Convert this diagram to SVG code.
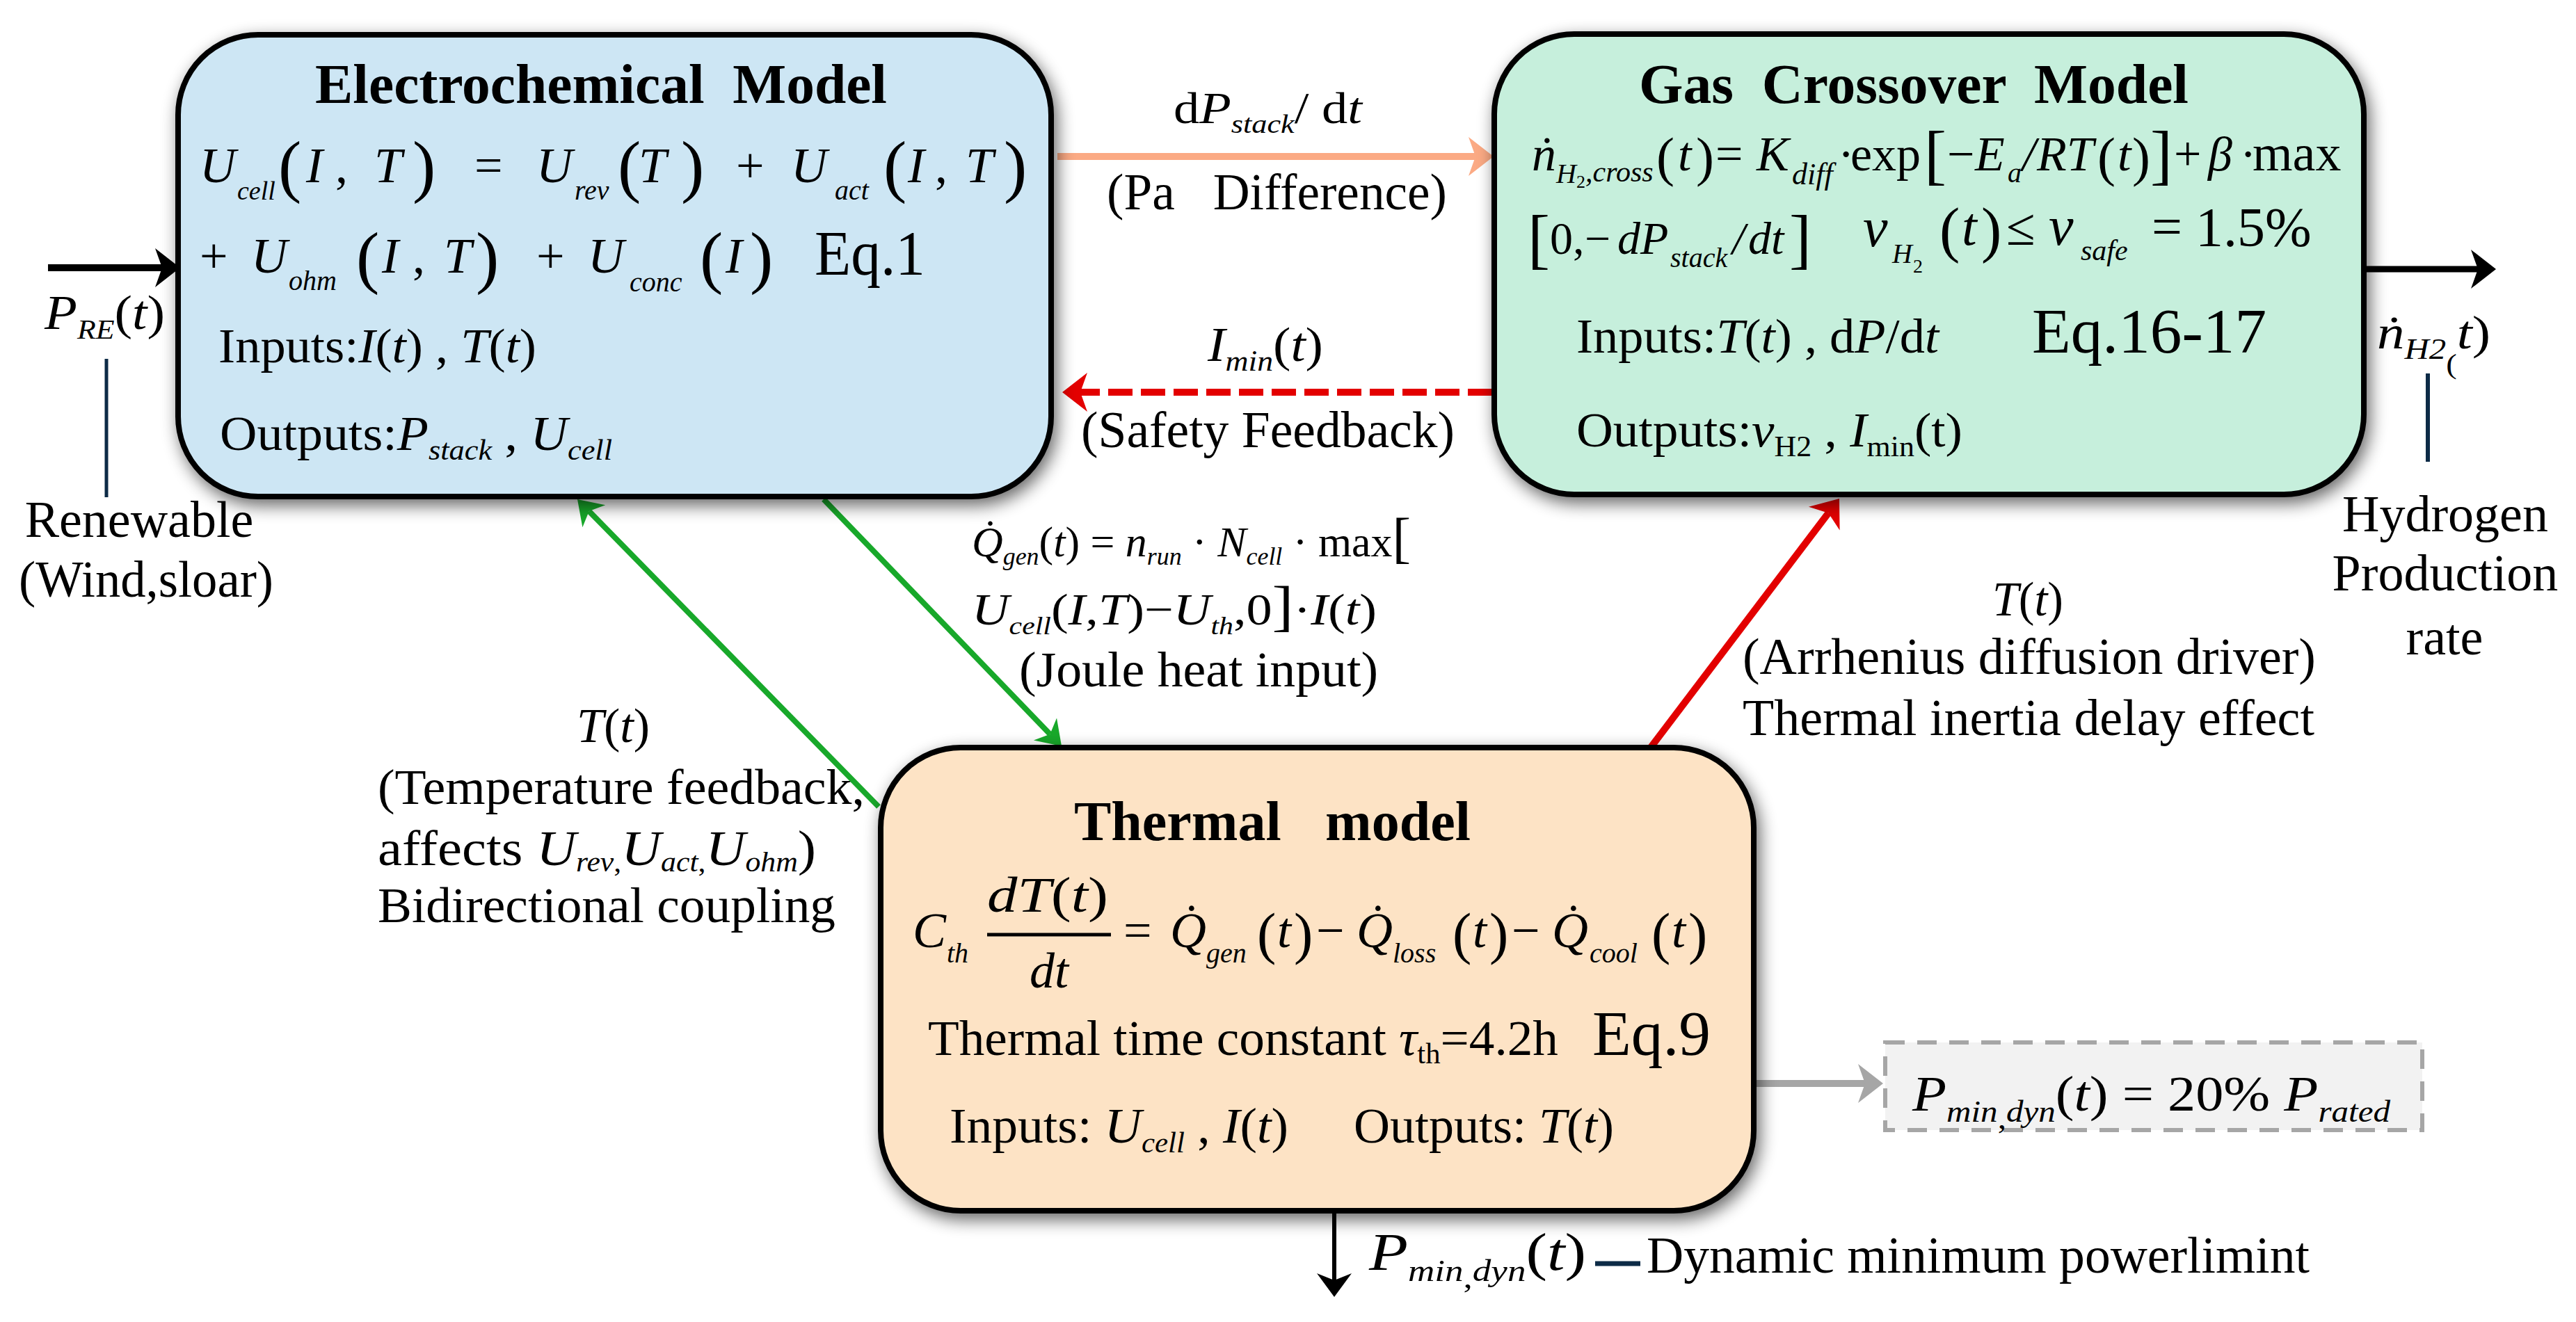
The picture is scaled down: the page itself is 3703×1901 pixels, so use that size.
<svg xmlns="http://www.w3.org/2000/svg" width="3703" height="1901" viewBox="0 0 3703 1901">
<style>
text{font-family:"Liberation Serif","Times New Roman",serif;fill:#000;}
.i{font-style:italic;}
.b{font-weight:bold;}
.box{stroke:#000;stroke-width:8;}
.nv{stroke:#0d2b47;fill:none;}
</style>
<defs>
<filter id="sh" x="-8%" y="-10%" width="118%" height="125%">
<feGaussianBlur in="SourceAlpha" stdDeviation="12"/>
<feOffset dx="5" dy="9"/>
<feComponentTransfer><feFuncA type="linear" slope="0.6"/></feComponentTransfer>
<feMerge><feMergeNode/><feMergeNode in="SourceGraphic"/></feMerge>
</filter>
<marker id="ak" markerUnits="userSpaceOnUse" viewBox="-12 -30 40 60" markerWidth="40" markerHeight="60" refX="0" refY="0" orient="auto"><path d="M26,0 L-10,-28 L0,0 L-10,28 Z" fill="#000"/></marker>
<marker id="ak2" markerUnits="userSpaceOnUse" viewBox="-12 -30 40 60" markerWidth="40" markerHeight="60" refX="0" refY="0" orient="auto"><path d="M24,0 L-10,-25 L0,0 L-10,25 Z" fill="#000"/></marker>
<marker id="ao" markerUnits="userSpaceOnUse" viewBox="-12 -30 40 60" markerWidth="40" markerHeight="60" refX="0" refY="0" orient="auto"><path d="M26,0 L-10,-28 L0,0 L-10,28 Z" fill="#FBAA84"/></marker>
<marker id="ar" markerUnits="userSpaceOnUse" viewBox="-12 -30 40 60" markerWidth="40" markerHeight="60" refX="0" refY="0" orient="auto"><path d="M26,0 L-10,-28 L0,0 L-10,28 Z" fill="#E30000"/></marker>
<marker id="ag" markerUnits="userSpaceOnUse" viewBox="-12 -30 40 60" markerWidth="40" markerHeight="60" refX="0" refY="0" orient="auto"><path d="M24,0 L-10,-23 L0,0 L-10,23 Z" fill="#18A82A"/></marker>
<marker id="ay" markerUnits="userSpaceOnUse" viewBox="-12 -30 40 60" markerWidth="40" markerHeight="60" refX="0" refY="0" orient="auto"><path d="M26,0 L-10,-28 L0,0 L-10,28 Z" fill="#A6A6A6"/></marker>
</defs>
<rect width="3703" height="1901" fill="#fff"/>

<g id="connectors" fill="none">
<line x1="69" y1="385" x2="233" y2="385" stroke="#000" stroke-width="10" marker-end="url(#ak)"/>
<line x1="3400" y1="387" x2="3562" y2="387" stroke="#000" stroke-width="9" marker-end="url(#ak)"/>
<line x1="1520" y1="225" x2="2121" y2="225" stroke="#FBAA84" stroke-width="10" marker-end="url(#ao)"/>
<line x1="2145" y1="564" x2="1553" y2="564" stroke="#E30000" stroke-width="10" stroke-dasharray="35 12" marker-end="url(#ar)"/>
<line x1="1263" y1="1160" x2="846.8" y2="735.1" stroke="#18A82A" stroke-width="8" marker-end="url(#ag)"/>
<line x1="1184" y1="718" x2="1509.4" y2="1055.7" stroke="#18A82A" stroke-width="8" marker-end="url(#ag)"/>
<line x1="2372" y1="1076" x2="2628.3" y2="737.7" stroke="#E30000" stroke-width="10" marker-end="url(#ar)"/>
<line x1="1918" y1="1741" x2="1918" y2="1841" stroke="#000" stroke-width="6" marker-end="url(#ak2)"/>
<line x1="2522" y1="1558" x2="2681" y2="1558" stroke="#A6A6A6" stroke-width="10" marker-end="url(#ay)"/>
<line class="nv" x1="153" y1="516" x2="153" y2="715" stroke-width="5"/>
<line class="nv" x1="3490" y1="537" x2="3490" y2="664" stroke-width="6"/>
<line class="nv" x1="2293" y1="1817" x2="2358" y2="1817" stroke-width="7"/>
</g>

<g id="electrochemical">
<rect class="box" x="256" y="50" width="1255" height="664" rx="115" fill="#CDE6F4" filter="url(#sh)"/>
<text x="864" y="148" text-anchor="middle" font-size="80" class="b" textLength="822" lengthAdjust="spacingAndGlyphs" xml:space="preserve">Electrochemical  Model</text>
<text font-size="72" y="262"><tspan x="287" class="i">U</tspan><tspan x="341" y="287" font-size="38" class="i">cell</tspan><tspan x="400" y="272" font-size="100">(</tspan><tspan x="440" y="262" class="i">I</tspan><tspan x="482">,</tspan><tspan x="538" class="i">T</tspan><tspan x="593" y="272" font-size="100">)</tspan><tspan x="682" y="262">=</tspan><tspan x="771" class="i">U</tspan><tspan x="826" y="287" font-size="40" class="i">rev</tspan><tspan x="888" y="272" font-size="100">(</tspan><tspan x="918" y="262" class="i">T</tspan><tspan x="979" y="272" font-size="100">)</tspan><tspan x="1058" y="262">+</tspan><tspan x="1137" class="i">U</tspan><tspan x="1200" y="287" font-size="40" class="i">act</tspan><tspan x="1270" y="272" font-size="100">(</tspan><tspan x="1305" y="262" class="i">I</tspan><tspan x="1344">,</tspan><tspan x="1388" class="i">T</tspan><tspan x="1443" y="272" font-size="100">)</tspan></text>
<text font-size="72" y="392"><tspan x="287">+</tspan><tspan x="361" class="i">U</tspan><tspan x="415" y="417" font-size="40" class="i">ohm</tspan><tspan x="512" y="403" font-size="100">(</tspan><tspan x="549" y="392" class="i">I</tspan><tspan x="593">,</tspan><tspan x="638" class="i">T</tspan><tspan x="684" y="403" font-size="100">)</tspan><tspan x="771" y="392">+</tspan><tspan x="845" class="i">U</tspan><tspan x="905" y="419" font-size="40" class="i">conc</tspan><tspan x="1006" y="403" font-size="100">(</tspan><tspan x="1043" y="392" class="i">I</tspan><tspan x="1078" y="403" font-size="100">)</tspan></text>
<text x="1171" y="395" font-size="92" textLength="159" lengthAdjust="spacingAndGlyphs">Eq.1</text>
<text x="314" y="521" font-size="70" textLength="457" lengthAdjust="spacingAndGlyphs" xml:space="preserve">Inputs:<tspan class="i">I</tspan>(<tspan class="i">t</tspan>) , <tspan class="i">T</tspan>(<tspan class="i">t</tspan>)</text>
<text x="316" y="647" font-size="70" textLength="564" lengthAdjust="spacingAndGlyphs" xml:space="preserve">Outputs:<tspan class="i">P</tspan><tspan class="i" font-size="42" dy="14">stack</tspan><tspan dy="-14"> , </tspan><tspan class="i">U</tspan><tspan class="i" font-size="42" dy="14">cell</tspan></text>
</g>

<g id="gas-crossover">
<rect class="box" x="2148" y="49" width="1250" height="662" rx="115" fill="#C6EFDC" filter="url(#sh)"/>
<text x="2751" y="148" text-anchor="middle" font-size="80" class="b" textLength="790" lengthAdjust="spacingAndGlyphs" xml:space="preserve">Gas  Crossover  Model</text>
<text font-size="70" y="245"><tspan x="2202" class="i">ṅ</tspan><tspan x="2237" y="263" font-size="40" class="i">H</tspan><tspan x="2266" y="270" font-size="26">2</tspan><tspan x="2279" y="261" font-size="42" class="i">,cross</tspan><tspan x="2381" y="252" font-size="78">(</tspan><tspan x="2412" y="245" class="i">t</tspan><tspan x="2438" y="252" font-size="78">)</tspan><tspan x="2466" y="245">=</tspan><tspan x="2525" class="i">K</tspan><tspan x="2576" y="265" font-size="44" class="i">diff</tspan><tspan x="2642" y="245">·</tspan><tspan x="2660">exp</tspan><tspan x="2766" y="254" font-size="96">[</tspan><tspan x="2799" y="245">−</tspan><tspan x="2839" class="i">E</tspan><tspan x="2886" y="262" font-size="40" class="i">a</tspan><tspan x="2907" y="245" class="i">/</tspan><tspan x="2928" class="i">RT</tspan><tspan x="3015" y="252" font-size="78">(</tspan><tspan x="3044" y="245" class="i">t</tspan><tspan x="3065" y="252" font-size="78">)</tspan><tspan x="3091" y="254" font-size="96">]</tspan><tspan x="3125" y="245">+</tspan><tspan x="3174" class="i">β</tspan><tspan x="3220">·</tspan><tspan x="3238" font-size="74">max</tspan></text>
<text font-size="66" y="365"><tspan x="2196" y="375" font-size="96">[</tspan><tspan x="2228" y="365">0</tspan><tspan x="2261">,</tspan><tspan x="2278">−</tspan><tspan x="2325" class="i">d</tspan><tspan x="2358" class="i">P</tspan><tspan x="2401" y="384" font-size="40" class="i">stack</tspan><tspan x="2490" y="365" class="i">/</tspan><tspan x="2513" class="i">dt</tspan><tspan x="2572" y="375" font-size="96">]</tspan><tspan x="2678" y="354" font-size="80" class="i">ν</tspan><tspan x="2720" y="378" font-size="40" class="i">H</tspan><tspan x="2750" y="392" font-size="28">2</tspan><tspan x="2788" y="360" font-size="88">(</tspan><tspan x="2820" y="352" font-size="78" class="i">t</tspan><tspan x="2848" y="360" font-size="88">)</tspan><tspan x="2884" y="352" font-size="76">≤</tspan><tspan x="2945" font-size="80" class="i">ν</tspan><tspan x="2991" y="374" font-size="42" class="i">safe</tspan><tspan x="3093" y="352" font-size="78">=</tspan><tspan x="3156" y="354" font-size="80">1.5%</tspan></text>
<text x="2266" y="507" font-size="70" textLength="521" lengthAdjust="spacingAndGlyphs" xml:space="preserve">Inputs:<tspan class="i">T</tspan>(<tspan class="i">t</tspan>) , d<tspan class="i">P</tspan>/d<tspan class="i">t</tspan></text>
<text x="2921" y="507" font-size="90" textLength="337" lengthAdjust="spacingAndGlyphs">Eq.16-17</text>
<text x="2266" y="642" font-size="70" textLength="555" lengthAdjust="spacingAndGlyphs" xml:space="preserve">Outputs:<tspan class="i">ν</tspan><tspan font-size="42" dy="14">H2</tspan><tspan dy="-14"> , </tspan><tspan class="i">I</tspan><tspan font-size="42" dy="14">min</tspan><tspan dy="-14">(t)</tspan></text>
</g>

<g id="thermal">
<rect class="box" x="1266" y="1075" width="1255" height="666" rx="115" fill="#FDE3C5" filter="url(#sh)"/>
<text y="1208" font-size="80" class="b"><tspan x="1544">Thermal</tspan><tspan x="1905">model</tspan></text>
<text font-size="72" y="1362"><tspan x="1312" class="i">C</tspan><tspan x="1361" y="1384" font-size="40" class="i">th</tspan></text>
<text x="1419" y="1311" font-size="72" textLength="174" lengthAdjust="spacingAndGlyphs"><tspan class="i">dT</tspan>(<tspan class="i">t</tspan>)</text>
<line x1="1419" y1="1344" x2="1597" y2="1344" stroke="#000" stroke-width="5"/>
<text x="1480" y="1420" font-size="72" class="i">dt</text>
<text font-size="72" y="1362"><tspan x="1615">=</tspan><tspan x="1682" class="i">Q̇</tspan><tspan x="1734" y="1384" font-size="40" class="i">gen</tspan><tspan x="1807" y="1370" font-size="82">(</tspan><tspan x="1836" y="1362" class="i">t</tspan><tspan x="1860" y="1370" font-size="82">)</tspan><tspan x="1892" y="1362">−</tspan><tspan x="1950" class="i">Q̇</tspan><tspan x="2002" y="1384" font-size="40" class="i">loss</tspan><tspan x="2088" y="1370" font-size="82">(</tspan><tspan x="2117" y="1362" class="i">t</tspan><tspan x="2141" y="1370" font-size="82">)</tspan><tspan x="2173" y="1362">−</tspan><tspan x="2231" class="i">Q̇</tspan><tspan x="2285" y="1384" font-size="40" class="i">cool</tspan><tspan x="2374" y="1370" font-size="82">(</tspan><tspan x="2403" y="1362" class="i">t</tspan><tspan x="2427" y="1370" font-size="82">)</tspan></text>
<text x="1334" y="1517" font-size="72" textLength="906" lengthAdjust="spacingAndGlyphs" xml:space="preserve">Thermal time constant <tspan class="i">τ</tspan><tspan font-size="42" dy="12">th</tspan><tspan dy="-12">=4.2h</tspan></text>
<text x="2289" y="1517" font-size="92" textLength="170" lengthAdjust="spacingAndGlyphs">Eq.9</text>
<text x="1365" y="1643" font-size="72" textLength="487" lengthAdjust="spacingAndGlyphs" xml:space="preserve">Inputs: <tspan class="i">U</tspan><tspan class="i" font-size="42" dy="14">cell</tspan><tspan dy="-14"> , </tspan><tspan class="i">I</tspan>(<tspan class="i">t</tspan>)</text>
<text x="1946" y="1643" font-size="72" textLength="374" lengthAdjust="spacingAndGlyphs" xml:space="preserve">Outputs: <tspan class="i">T</tspan>(<tspan class="i">t</tspan>)</text>
</g>

<g id="pmin-box">
<rect x="2710" y="1499" width="772" height="126" fill="#F2F2F2" stroke="#A6A6A6" stroke-width="6" stroke-dasharray="28 18"/>
<text x="2749" y="1597" font-size="72" textLength="687" lengthAdjust="spacingAndGlyphs" xml:space="preserve"><tspan class="i">P</tspan><tspan class="i" font-size="44" dy="16">min</tspan><tspan font-size="44" dy="10">,</tspan><tspan class="i" font-size="44" dy="-10">dyn</tspan><tspan dy="-16">(<tspan class="i">t</tspan>) = 20% </tspan><tspan class="i">P</tspan><tspan class="i" font-size="44" dy="16">rated</tspan></text>
</g>

<g id="labels">
<text x="64" y="473" font-size="70" textLength="173" lengthAdjust="spacingAndGlyphs"><tspan class="i">P</tspan><tspan class="i" font-size="40" dy="14">RE</tspan><tspan dy="-14">(<tspan class="i">t</tspan>)</tspan></text>
<text x="200" y="772" font-size="74" text-anchor="middle">Renewable</text>
<text x="210" y="858" font-size="74" text-anchor="middle" textLength="366" lengthAdjust="spacingAndGlyphs">(Wind,sloar)</text>
<text x="1687" y="177" font-size="64" textLength="271" lengthAdjust="spacingAndGlyphs" xml:space="preserve">d<tspan class="i">P</tspan><tspan class="i" font-size="38" dy="14">stack</tspan><tspan dy="-14">/ d</tspan><tspan class="i">t</tspan></text>
<text x="1591" y="301" font-size="73" textLength="489" lengthAdjust="spacingAndGlyphs" xml:space="preserve">(Pa   Difference)</text>
<text x="1736" y="519" font-size="70" textLength="166" lengthAdjust="spacingAndGlyphs"><tspan class="i">I</tspan><tspan class="i" font-size="42" dy="14">min</tspan><tspan dy="-14">(<tspan class="i">t</tspan>)</tspan></text>
<text x="1554" y="643" font-size="74" textLength="537" lengthAdjust="spacingAndGlyphs">(Safety Feedback)</text>
<text x="3417" y="501" font-size="68" textLength="163" lengthAdjust="spacingAndGlyphs"><tspan class="i">ṅ</tspan><tspan class="i" font-size="42" dy="15">H2</tspan><tspan font-size="40" dy="21">(</tspan><tspan class="i" dy="-36">t</tspan>)</text>
<text x="3515" y="764" font-size="74" text-anchor="middle">Hydrogen</text>
<text x="3515" y="849" font-size="74" text-anchor="middle">Production</text>
<text x="3514" y="941" font-size="74" text-anchor="middle">rate</text>
<text x="1397" y="800" font-size="62" textLength="631" lengthAdjust="spacingAndGlyphs" xml:space="preserve"><tspan class="i">Q̇</tspan><tspan class="i" font-size="36" dy="12">gen</tspan><tspan dy="-12">(<tspan class="i">t</tspan>) = </tspan><tspan class="i">n</tspan><tspan class="i" font-size="36" dy="12">run</tspan><tspan dy="-12"> · </tspan><tspan class="i">N</tspan><tspan class="i" font-size="36" dy="12">cell</tspan><tspan dy="-12"> · max</tspan><tspan font-size="80">[</tspan></text>
<text x="1397" y="898" font-size="64" textLength="582" lengthAdjust="spacingAndGlyphs" xml:space="preserve"><tspan class="i">U</tspan><tspan class="i" font-size="36" dy="14">cell</tspan><tspan dy="-14">(<tspan class="i">I</tspan>,<tspan class="i">T</tspan>)−</tspan><tspan class="i">U</tspan><tspan class="i" font-size="36" dy="14">th</tspan><tspan dy="-14">,0</tspan><tspan font-size="80">]</tspan>·<tspan class="i">I</tspan>(<tspan class="i">t</tspan>)</text>
<text x="1465" y="987" font-size="72" textLength="516" lengthAdjust="spacingAndGlyphs">(Joule heat input)</text>
<text x="829" y="1067" font-size="70" textLength="105" lengthAdjust="spacingAndGlyphs"><tspan class="i">T</tspan>(<tspan class="i">t</tspan>)</text>
<text x="543" y="1156" font-size="72" textLength="700" lengthAdjust="spacingAndGlyphs">(Temperature feedback,</text>
<text x="543" y="1244" font-size="72" textLength="630" lengthAdjust="spacingAndGlyphs" xml:space="preserve">affects <tspan class="i">U</tspan><tspan class="i" font-size="40" dy="9">rev</tspan><tspan font-size="40">,</tspan><tspan class="i" dy="-9">U</tspan><tspan class="i" font-size="40" dy="9">act</tspan><tspan font-size="40">,</tspan><tspan class="i" dy="-9">U</tspan><tspan class="i" font-size="40" dy="9">ohm</tspan><tspan dy="-9">)</tspan></text>
<text x="543" y="1326" font-size="72" textLength="658" lengthAdjust="spacingAndGlyphs">Bidirectional coupling</text>
<text x="2864" y="885" font-size="70" textLength="102" lengthAdjust="spacingAndGlyphs"><tspan class="i">T</tspan>(<tspan class="i">t</tspan>)</text>
<text x="2505" y="969" font-size="74" textLength="824" lengthAdjust="spacingAndGlyphs">(Arrhenius diffusion driver)</text>
<text x="2505" y="1057" font-size="74" textLength="822" lengthAdjust="spacingAndGlyphs">Thermal inertia delay effect</text>
<text x="1968" y="1826" font-size="76" textLength="312" lengthAdjust="spacingAndGlyphs"><tspan class="i">P</tspan><tspan class="i" font-size="44" dy="16">min</tspan><tspan font-size="44" dy="10">,</tspan><tspan class="i" font-size="44" dy="-10">dyn</tspan><tspan dy="-16">(<tspan class="i">t</tspan>)</tspan></text>
<text x="2367" y="1830" font-size="73" textLength="953" lengthAdjust="spacingAndGlyphs">Dynamic minimum powerlimint</text>
</g>
</svg>
